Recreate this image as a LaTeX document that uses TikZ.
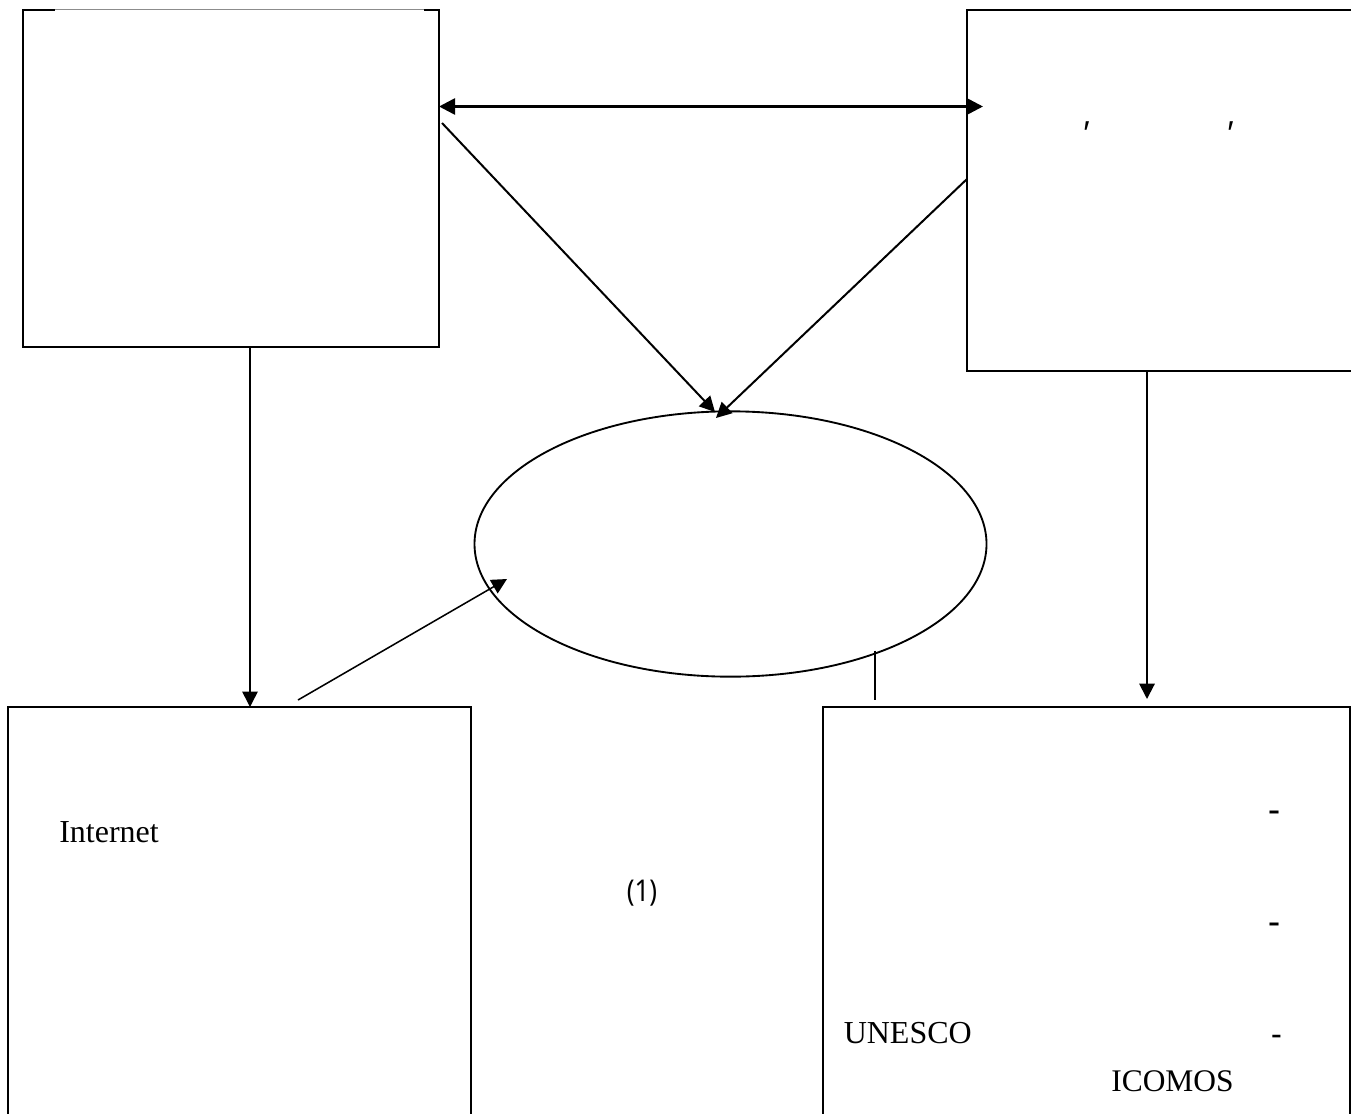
\documentclass[tikz,border=0pt]{standalone}
\usepackage{fontspec}
\setmainfont{Liberation Serif}
\newfontfamily\labelsans{Noto Sans}
\usetikzlibrary{arrows.meta,calc,shapes.geometric}
\begin{document}
\begin{tikzpicture}[x=0.75pt,y=-0.75pt,
  boxnode/.style={draw=black,line width=1.5pt,rectangle,inner sep=0pt,outer sep=0pt,fill=none},
  ovalnode/.style={draw=black,line width=1.4pt,ellipse,inner sep=0pt,outer sep=0pt,minimum width=384pt,minimum height=199pt},
  link/.style={draw=black,line width=1.15pt},
  heavylink/.style={draw=black,line width=1.5pt},
  tipped/.style={-{Triangle[length=11.5pt,width=11.5pt]}},
  serifword/.style={font=\fontsize{24}{24}\selectfont,inner sep=0pt,anchor=west,text=black},
  capsword/.style={font=\fontsize{23.6}{24}\selectfont,inner sep=0pt,anchor=west,text=black},
  sansmark/.style={font=\labelsans\fontsize{22.5}{22.5}\selectfont,inner sep=0pt,text=black},
  tickmark/.style={font=\labelsans\bfseries\itshape\fontsize{25}{25}\selectfont,inner sep=0pt,text=black},
  dashmark/.style={font=\labelsans\bfseries\fontsize{28}{28}\selectfont,inner sep=0pt,text=black}]
\useasboundingbox (0,0) rectangle (1351,1113);
\clip (0,0) rectangle (1351,1113);
\fill[white] (0,0) rectangle (1351,1113);
\node[boxnode,minimum width=312pt,minimum height=252.75pt] (tl) at (231,178.5) {};
\node[boxnode,minimum width=288.75pt,minimum height=270.75pt] (tr) at (1159.5,190.5) {};
\node[boxnode,minimum width=347.25pt,minimum height=318pt] (bl) at (239.5,919) {};
\node[boxnode,minimum width=395.25pt,minimum height=318pt] (br) at (1086.5,919) {};
\node[ovalnode] (oval) at (730.5,544) {};
\draw[white,line width=2.4pt] (55,10) -- (424,10);
\draw[black!45,line width=0.7pt] (55,9.5) -- (424,9.5);
\coordinate (ovaltopa) at (715,412);
\coordinate (ovaltopb) at (716,418);
\coordinate (ovalleft) at (507,579);
\coordinate (blout) at (298,700);
\coordinate (brstub) at (875,700);
\coordinate (brin) at (1147,699);
\draw[draw=black,line width=2pt,{Triangle[length=12pt,width=12pt]}-{Triangle[length=12pt,width=12pt]}] ($(tl.north east)+(0,96.5)$) -- ($(tr.north west)+(16,96.5)$);
\draw[heavylink,tipped] ($(tl.north east)+(3,113)$) -- (ovaltopa);
\draw[heavylink,tipped] ($(tr.north west)+(0,169)$) -- (ovaltopb);
\draw[link,tipped] (tl.south -| 250,0) -- (bl.north -| 250,0);
\draw[link,tipped] (blout) -- (ovalleft);
\draw[heavylink,tipped] (tr.south -| brin) -- (brin);
\draw[link] (oval.south -| brstub) ++(0,-26) -- (brstub);
\node[serifword] (internet) at (59,832) {Internet};
\node[serifword] (unesco) at (843.5,1033) {UNESCO};
\node[capsword] (icomos) at (1111,1081) {ICOMOS};
\node[sansmark] (figno) at (642,893) {\scalebox{.86}[1]{(1)}};
\node[tickmark] (marka) at (1085,134) {'};
\node[tickmark] (markb) at (1229,134) {'};
\node[dashmark] (dasha) at (1274,817) {-};
\node[dashmark] (dashb) at (1274,929) {-};
\node[dashmark,font=\labelsans\fontsize{25}{25}\selectfont] (dashc) at (1277,1040) {-};
\end{tikzpicture}
\end{document}
